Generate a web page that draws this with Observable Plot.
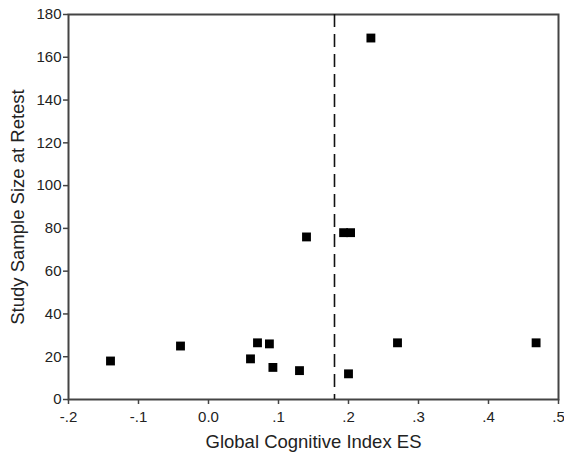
<!DOCTYPE html>
<html>
<head>
<meta charset="utf-8">
<script src="https://cdn.jsdelivr.net/npm/d3@7"></script>
<script src="https://cdn.jsdelivr.net/npm/@observablehq/plot@0.6"></script>
<style>
  html, body { margin: 0; padding: 0; background: #fff; }
  svg { display: block; }
</style>
</head>
<body>
<div id="chart"></div>
<script>
// Data
const effectSize = [-0.14, -0.04, 0.06, 0.07, 0.087, 0.092, 0.13, 0.20, 0.14, 0.193, 0.203, 0.27, 0.468, 0.232];
const sampleSize = [18, 25, 19, 26.5, 26, 15, 13.5, 12, 76, 78, 78, 26.5, 26.5, 169];
const referenceES = [0.18];

const xTicks = [-0.2, -0.1, 0.0, 0.1, 0.2, 0.3, 0.4, 0.5];
const xTickLabels = ["-.2", "-.1", "0.0", ".1", ".2", ".3", ".4", ".5"];
const yTicks = [0, 20, 40, 60, 80, 100, 120, 140, 160, 180];
const yTickLabels = ["0", "20", "40", "60", "80", "100", "120", "140", "160", "180"];

const xTitle = "Global Cognitive Index ES";
const yTitle = "Study Sample Size at Retest";

const points = effectSize.map((x, i) => ({x, y: sampleSize[i]}));

const chart = Plot.plot({
  width: 564,
  height: 457,
  marginLeft: 68,
  marginRight: 6,
  marginTop: 14,
  marginBottom: 58,
  style: {fontFamily: "Liberation Sans, Arial, sans-serif", fontSize: "15px", background: "#fff"},
  x: {domain: [-0.2, 0.5]},
  y: {domain: [0, 180]},
  marks: [
    Plot.frame({stroke: "#444", strokeWidth: 2}),
    Plot.ruleX(referenceES, {stroke: "#111", strokeWidth: 1.6, strokeDasharray: "13,7"}),
    Plot.dot(points, {x: "x", y: "y", symbol: "square", r: 5, fill: "#000", stroke: "none"}),
    Plot.axisX({ticks: xTicks, tickFormat: (d) => xTickLabels[xTicks.indexOf(d)], tickSize: 5, tickPadding: 7, stroke: "#444", strokeWidth: 1.5, fill: "#222", fontSize: 15, label: null}),
    Plot.axisY({ticks: yTicks, tickFormat: (d) => yTickLabels[yTicks.indexOf(d)], tickSize: 5, tickPadding: 2, stroke: "#444", strokeWidth: 1.5, fill: "#222", fontSize: 15, label: null}),
    Plot.text([xTitle], {frameAnchor: "bottom", textAnchor: "middle", lineAnchor: "middle", dy: 43, fontSize: 18.5, fill: "#222"}),
    Plot.text([yTitle], {frameAnchor: "left", textAnchor: "middle", lineAnchor: "middle", dx: -50, rotate: -90, fontSize: 18.5, fill: "#222"})
  ]
});
document.getElementById("chart").appendChild(chart);
</script>
</body>
</html>
